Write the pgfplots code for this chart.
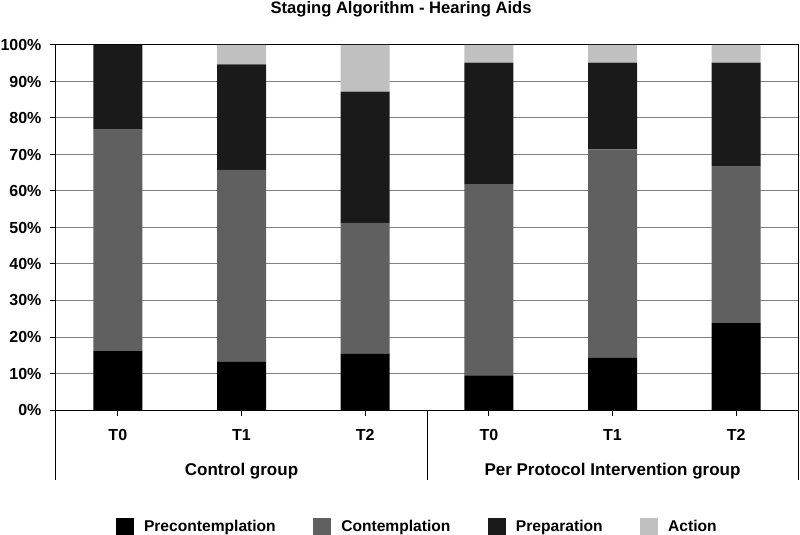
\documentclass[border=0pt]{standalone}
\usepackage{fontspec}
\setmainfont{Liberation Sans}
\usepackage{pgfplots}
\pgfplotsset{compat=1.18}
\definecolor{cPre}{HTML}{000000}
\definecolor{cCon}{HTML}{606060}
\definecolor{cPrep}{HTML}{1A1A1A}
\definecolor{cAct}{HTML}{C0C0C0}
\definecolor{cGrid}{HTML}{808080}
\begin{document}
\begin{tikzpicture}
\begin{axis}[
  name=ax,
  scale only axis, width=742pt, height=365pt,
  ybar stacked, bar width=49pt,
  xmin=-0.5, xmax=5.5, ymin=0, ymax=100,
  xtick={0,1,2,3,4,5}, xticklabels={T0,T1,T2,T0,T1,T2},
  ytick={0,10,...,100},
  yticklabels={0\%,10\%,20\%,30\%,40\%,50\%,60\%,70\%,80\%,90\%,100\%},
  tick align=outside, major tick length=6pt,
  tick style={black, line width=1pt},
  xtick pos=bottom, ytick pos=left,
  ymajorgrids, major grid style={cGrid, line width=1pt},
  axis line style={black, line width=1pt},
  clip=false,
  /pgf/number format/assume math mode=true,
  ticklabel style={font=\fontsize{16}{19}\selectfont\bfseries},
  xticklabel style={yshift=-10pt},
  yticklabel style={xshift=-5pt},
  legend columns=4,
  legend style={draw=none, at={(0.487,-0.32)}, anchor=center,
    font=\fontsize{15.6}{18}\selectfont\bfseries,
    /tikz/every odd column/.style={column sep=8pt},
    /tikz/every even column/.style={column sep=35.5pt}},
  legend image code/.code={\fill[#1] (0pt,-9pt) rectangle (18pt,9pt);},
]
\addplot[fill=cPre, draw=none] coordinates {(0,16.3) (1,13.2) (2,15.4) (3,9.5) (4,14.3) (5,23.8)};
\addplot[fill=cCon, draw=none] coordinates {(0,60.5) (1,52.6) (2,35.9) (3,52.4) (4,57.1) (5,42.9)};
\addplot[fill=cPrep, draw=none] coordinates {(0,23.2) (1,28.9) (2,35.9) (3,33.3) (4,23.8) (5,28.5)};
\addplot[fill=cAct, draw=none] coordinates {(0,0) (1,5.3) (2,12.8) (3,4.8) (4,4.8) (5,4.8)};
\legend{Precontemplation,Contemplation,Preparation,Action}
\draw[black, line width=1pt] (rel axis cs:0,0) -- ([yshift=-70pt]rel axis cs:0,0);
\draw[black, line width=1pt] (rel axis cs:0.5,0) -- ([yshift=-70pt]rel axis cs:0.5,0);
\draw[black, line width=1pt] (rel axis cs:1,0) -- ([yshift=-70pt]rel axis cs:1,0);
\node[anchor=base, font=\fontsize{17}{20}\selectfont\bfseries] at ([yshift=-65pt]axis cs:1,0) {Control group};
\node[anchor=base, font=\fontsize{17}{20}\selectfont\bfseries] at ([yshift=-65pt]axis cs:4,0) {Per Protocol Intervention group};
\node[anchor=base, font=\fontsize{16.6}{20}\selectfont\bfseries] at ([yshift=31.6pt]rel axis cs:0.465,1) {Staging Algorithm - Hearing Aids};
\end{axis}
\pgfresetboundingbox
\path[use as bounding box] ([xshift=-56pt,yshift=-125pt]ax.south west) rectangle ([xshift=2pt,yshift=45pt]ax.north east);
\end{tikzpicture}
\end{document}
